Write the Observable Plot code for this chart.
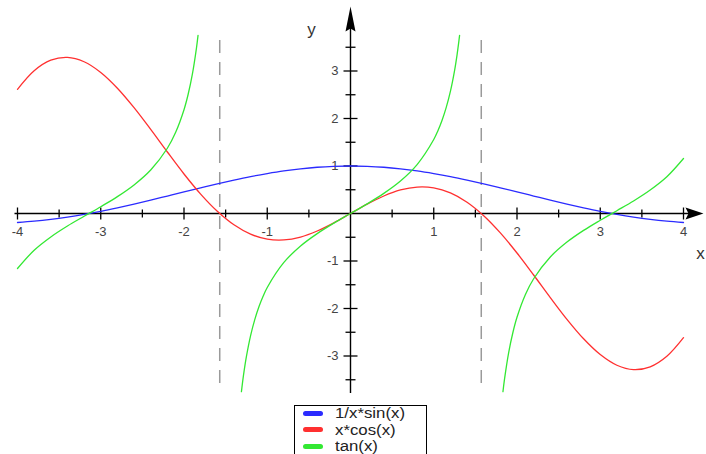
<!DOCTYPE html>
<html>
<head>
<meta charset="utf-8">
<script src="https://cdn.jsdelivr.net/npm/d3@7"></script>
<script src="https://cdn.jsdelivr.net/npm/@observablehq/plot@0.6"></script>
<style>
html, body { margin: 0; padding: 0; background: #fff; overflow: hidden; width: 706px; height: 454px; }
#wrap { position: relative; width: 706px; height: 454px; font-family: "Liberation Sans", Arial, Helvetica, sans-serif; }
#chart svg { display: block; }
#legend { position: absolute; left: 294px; top: 405px; width: 133px; height: 60px; border: 1px solid #000; box-sizing: border-box; background: #fff; }
#legend .row { position: absolute; left: 0; width: 131px; height: 16px; }
#legend .sw { position: absolute; left: 8px; top: 5.5px; width: 20px; height: 5px; border-radius: 3px; }
#legend .lb { position: absolute; left: 40px; top: 0; font-size: 14px; line-height: 16px; color: #222; white-space: nowrap; transform: scaleX(1.2); transform-origin: 0 50%; }
</style>
</head>
<body>
<div id="wrap"><div id="chart"></div><div id="legend"></div></div>
<script>
// ---- data ----
const gridX = [-4.0,-3.8,-3.6,-3.4,-3.2,-3.0,-2.8,-2.6,-2.4,-2.2,-2.0,-1.8,-1.6,-1.4,-1.2,-1.0,-0.8,-0.6,-0.4,-0.2,0,
               0.2,0.4,0.6,0.8,1.0,1.2,1.4,1.6,1.8,2.0,2.2,2.4,2.6,2.8,3.0,3.2,3.4,3.6,3.8,4.0];
const sincY = [-0.189,-0.161,-0.123,-0.075,-0.018,0.047,0.120,0.198,0.281,0.368,0.455,0.541,0.625,0.704,0.777,0.841,0.897,0.941,0.974,0.993,1,
               0.993,0.974,0.941,0.897,0.841,0.777,0.704,0.625,0.541,0.455,0.368,0.281,0.198,0.120,0.047,-0.018,-0.075,-0.123,-0.161,-0.189];
const xcosY = [2.615,3.006,3.228,3.287,3.195,2.970,2.638,2.228,1.770,1.295,0.832,0.409,0.047,-0.238,-0.435,-0.540,-0.557,-0.495,-0.368,-0.196,0,
               0.196,0.368,0.495,0.557,0.540,0.435,0.238,-0.047,-0.409,-0.832,-1.295,-1.770,-2.228,-2.638,-2.970,-3.195,-3.287,-3.228,-3.006,-2.615];
const tanX = [-4.0,-3.8,-3.6,-3.4,-3.2,-3.0,-2.8,-2.6,-2.4,-2.2,-2.1,-2.0,-1.95,-1.9,-1.85,-1.8314,
              -1.5708,
              -1.3102,-1.3,-1.28,-1.25,-1.2,-1.15,-1.1,-1.05,-1.0,-0.8,-0.6,-0.4,-0.2,0,0.2,0.4,0.6,0.8,1.0,1.05,1.1,1.15,1.2,1.25,1.28,1.3,1.3102,
              1.5708,
              1.8314,1.85,1.9,1.95,2.0,2.1,2.2,2.4,2.6,2.8,3.0,3.2,3.4,3.6,3.8,4.0];
const tanY = [-1.158,-0.774,-0.494,-0.264,-0.059,0.143,0.356,0.602,0.916,1.374,1.710,2.185,2.510,2.927,3.488,3.75,
              null,
              -3.75,-3.602,-3.341,-3.010,-2.572,-2.235,-1.965,-1.743,-1.557,-1.030,-0.684,-0.423,-0.203,0,0.203,0.423,0.684,1.030,1.557,1.743,1.965,2.235,2.572,3.010,3.341,3.602,3.75,
              null,
              -3.75,-3.488,-2.927,-2.510,-2.185,-1.710,-1.374,-0.916,-0.602,-0.356,-0.143,0.059,0.264,0.494,0.774,1.158];
const asymptotes = [-1.5708, 1.5708];
const xMajor = [-4,-3,-2,-1,1,2,3,4];
const xMinor = [-3.5,-2.5,-1.5,-0.5,0.5,1.5,2.5,3.5];
const yMajor = [-3,-2,-1,1,2,3];
const yMinor = [-3.5,-2.5,-1.5,-0.5,0.5,1.5,2.5,3.5];
const xTickLabels = ["-4","-3","-2","-1","1","2","3","4"];
const yTickLabels = ["-3","-2","-1","1","2","3"];
const seriesNames = ["1/x*sin(x)", "x*cos(x)", "tan(x)"];
const seriesColors = ["#2b2bff", "#ff3030", "#33e833"];

// ---- layout ----
const W = 706, H = 400;
const originY = 213, unitY = 47.5;
const yDomain = [-(H - originY) / unitY, originY / unitY];

const sincData = gridX.map((x, i) => ({x, y: sincY[i]}));
const xcosData = gridX.map((x, i) => ({x, y: xcosY[i]}));
const tanData = tanX.map((x, i) => ({x, y: tanY[i]}));

const sym = (fn) => ({draw(ctx) { fn(ctx); }});
const vTickBig = sym(c => { c.moveTo(0, -6); c.lineTo(0, 6); });
const vTickSmall = sym(c => { c.moveTo(0, -4); c.lineTo(0, 4); });
const hTickBig = sym(c => { c.moveTo(-7, 0); c.lineTo(7, 0); });
const hTickSmall = sym(c => { c.moveTo(-5, 0); c.lineTo(5, 0); });
const upArrow = sym(c => { c.moveTo(0, 0); c.lineTo(5, 25); c.lineTo(0, 22); c.lineTo(-5, 25); c.closePath(); });
const rightArrow = sym(c => { c.moveTo(0, 0); c.lineTo(-18, 6); c.lineTo(-15, 0); c.lineTo(-18, -6); c.closePath(); });

const chart = Plot.plot({
  width: W, height: H,
  marginLeft: 17, marginRight: 23, marginTop: 0, marginBottom: 0,
  x: {domain: [-4, 4], axis: null},
  y: {domain: yDomain, axis: null},
  style: {fontFamily: "'Liberation Sans', Arial, Helvetica, sans-serif", background: "#fff"},
  marks: [
    Plot.ruleX(asymptotes, {x: d => d, y1: -3.58, y2: 3.75, stroke: "#9a9a9a", strokeWidth: 1.5, strokeDasharray: "13,9"}),
    Plot.ruleY([0], {x1: -4.03, x2: 4.1, stroke: "#000", strokeWidth: 1.4}),
    Plot.ruleX([0], {y1: -3.79, y2: 3.95, stroke: "#000", strokeWidth: 1.4}),
    Plot.dot(xMajor, {x: d => d, y: 0, symbol: vTickBig, stroke: "#000", strokeWidth: 1.3, fill: "none"}),
    Plot.dot(xMinor, {x: d => d, y: 0, symbol: vTickSmall, stroke: "#000", strokeWidth: 1.3, fill: "none"}),
    Plot.dot(yMajor, {x: 0, y: d => d, symbol: hTickBig, stroke: "#000", strokeWidth: 1.3, fill: "none"}),
    Plot.dot(yMinor, {x: 0, y: d => d, symbol: hTickSmall, stroke: "#000", strokeWidth: 1.3, fill: "none"}),
    Plot.dot([0], {x: 0, y: 4.36, symbol: upArrow, fill: "#000", stroke: "none"}),
    Plot.dot([0], {x: 4.24, y: 0, symbol: rightArrow, fill: "#000", stroke: "none"}),
    Plot.text(xTickLabels, {x: (d, i) => xMajor[i], y: 0, text: d => d, dy: 18, fontSize: 13, fill: "#444"}),
    Plot.text(yTickLabels, {x: 0, y: (d, i) => yMajor[i], text: d => d, dx: -12, textAnchor: "end", fontSize: 13, fill: "#444"}),
    Plot.line(sincData, {x: "x", y: "y", stroke: seriesColors[0], strokeWidth: 1.3, curve: "catmull-rom"}),
    Plot.line(xcosData, {x: "x", y: "y", stroke: seriesColors[1], strokeWidth: 1.3, curve: "catmull-rom"}),
    Plot.line(tanData, {x: "x", y: "y", stroke: seriesColors[2], strokeWidth: 1.3, curve: "catmull-rom"}),
    Plot.text(["x"], {x: 4, y: 0, text: d => d, dx: 17, dy: 40, fontSize: 17, fill: "#333"}),
    Plot.text(["y"], {x: 0, frameAnchor: "top", text: d => d, dx: -39, dy: 22, fontSize: 17, fill: "#333"})
  ]
});
document.getElementById("chart").appendChild(chart);

// legend below the plot
const legend = document.getElementById("legend");
seriesNames.forEach((name, i) => {
  const row = document.createElement("div");
  row.className = "row";
  row.style.top = (-1 + i * 16.5) + "px";
  const sw = document.createElement("span");
  sw.className = "sw";
  sw.style.background = seriesColors[i];
  const lb = document.createElement("span");
  lb.className = "lb";
  lb.textContent = name;
  row.appendChild(sw); row.appendChild(lb);
  legend.appendChild(row);
});
</script>
</body>
</html>
